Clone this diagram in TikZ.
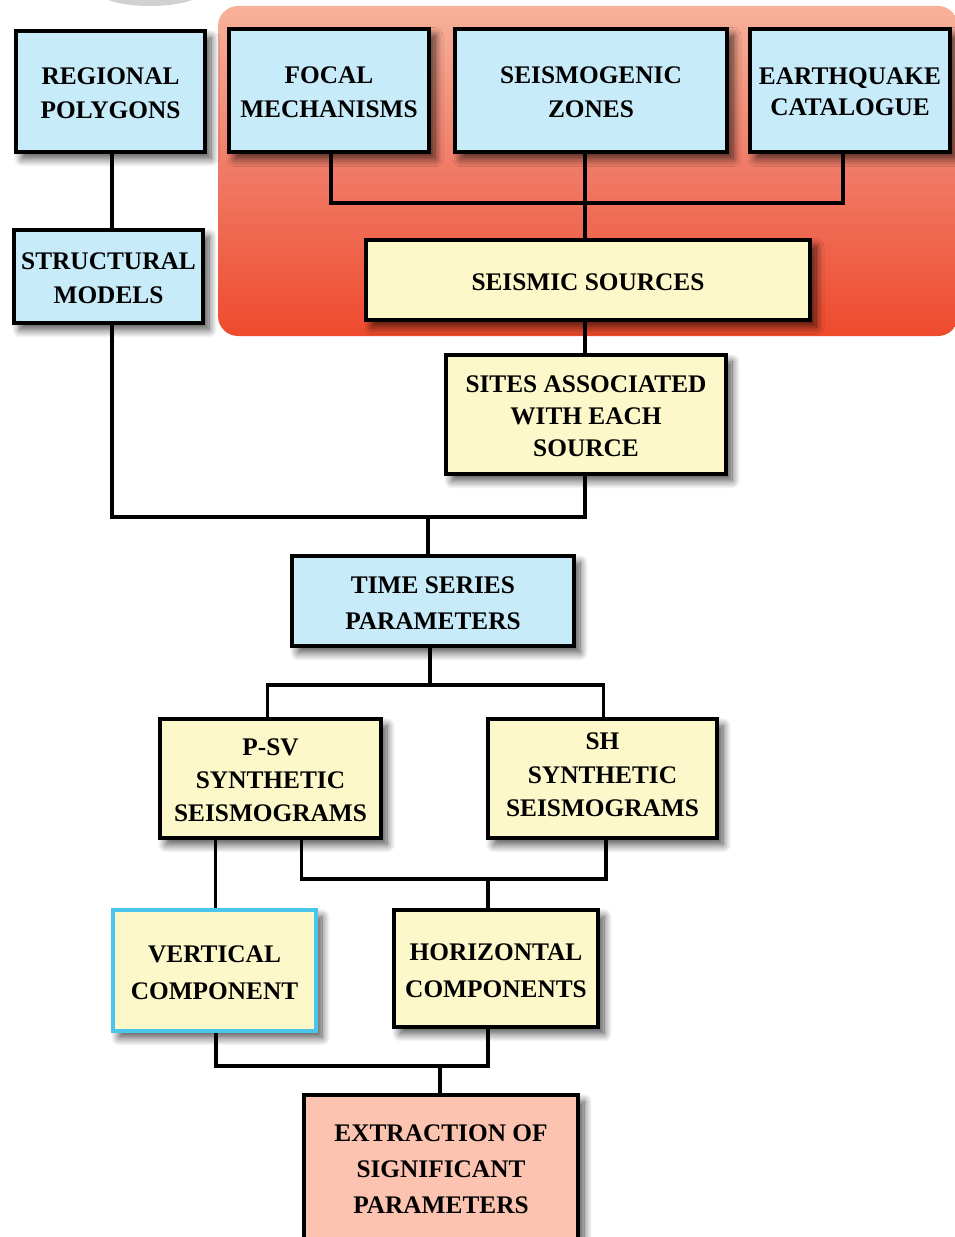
\documentclass[tikz,border=0pt]{standalone}
\usepackage{fontspec}
\setmainfont{Liberation Serif}
\usetikzlibrary{shadows.blur,calc}
\definecolor{bluefill}{HTML}{C8EBF9}
\definecolor{yelfill}{HTML}{FDF8C9}
\definecolor{salfill}{HTML}{FBC3B0}
\definecolor{cyanline}{HTML}{4BC5EC}
\definecolor{redtop}{HTML}{F7B29A}
\definecolor{redmid}{HTML}{F07A66}
\definecolor{redbot}{HTML}{EE4A2C}
\newcommand{\boxtext}[2][-2.4pt]{\raisebox{#1}[\height][\depth]{\begin{tabular}{@{}c@{}}#2\end{tabular}}}
\tikzset{
  box/.style={draw=black, line width=3pt, inner sep=2pt,
    font=\fontsize{19}{26}\selectfont\bfseries,
    blur shadow={shadow xshift=4.5pt, shadow yshift=-5pt, shadow blur radius=6pt, shadow blur steps=12, shadow opacity=70}},
  bluebox/.style={box, fill=bluefill},
  yelbox/.style={box, fill=yelfill},
  salbox/.style={box, fill=salfill},
  conn/.style={draw=black, line width=2.3pt},
}
\begin{document}
\begin{tikzpicture}[x=0.75pt,y=-0.75pt]
\useasboundingbox (0,0) rectangle (955,1237);
% faint grey blob at top
\fill[black!18] (150,-6) ellipse (48 and 12);
% red background panel
\shade[rounded corners=15pt, top color=redtop, bottom color=redbot, middle color=redmid]
  (218,6) rectangle (958,336);
% boxes
\node[bluebox, minimum width=141.75pt, minimum height=90.75pt] (reg) at (110.5,91.5) {\boxtext{REGIONAL\\POLYGONS}};
\node[bluebox, minimum width=150pt, minimum height=92.25pt] (foc) at (329,90.5) {\boxtext{FOCAL\\MECHANISMS}};
\node[bluebox, minimum width=204pt, minimum height=92.25pt] (seis) at (591,90.5) {\boxtext{SEISMOGENIC\\ZONES}};
\node[bluebox, minimum width=150pt, minimum height=92.25pt, font=\fontsize{19}{23.5}\selectfont\bfseries] (eq) at (850,90.5) {\boxtext{EARTHQUAKE\\CATALOGUE}};
\node[bluebox, minimum width=141.75pt, minimum height=69.75pt, font=\fontsize{19}{25}\selectfont\bfseries] (struct) at (108.5,276.5) {\boxtext{STRUCTURAL\\MODELS}};
\node[yelbox, minimum width=333pt, minimum height=60pt] (src) at (588,280) {\boxtext{SEISMIC SOURCES}};
\node[yelbox, minimum width=210pt, minimum height=89.25pt, font=\fontsize{19}{24}\selectfont\bfseries] (sites) at (586,414.5) {\boxtext{SITES ASSOCIATED\\WITH EACH\\SOURCE}};
\node[bluebox, minimum width=211.5pt, minimum height=67.5pt, font=\fontsize{19}{27}\selectfont\bfseries] (time) at (433,601) {\boxtext{TIME SERIES\\PARAMETERS}};
\node[yelbox, minimum width=165.75pt, minimum height=89.25pt, font=\fontsize{19}{25}\selectfont\bfseries] (psv) at (270.5,778.5) {\boxtext{P-SV\\SYNTHETIC\\SEISMOGRAMS}};
\node[yelbox, minimum width=171.75pt, minimum height=89.25pt, font=\fontsize{19}{25}\selectfont\bfseries] (sh) at (602.5,778.5) {\boxtext[1.5pt]{SH\\SYNTHETIC\\SEISMOGRAMS}};
\node[yelbox, draw=cyanline, minimum width=152.25pt, minimum height=90.75pt, font=\fontsize{19}{27.5}\selectfont\bfseries] (vert) at (214.5,970.5) {\boxtext{VERTICAL\\COMPONENT}};
\node[yelbox, minimum width=153pt, minimum height=87.75pt, font=\fontsize{19}{27.5}\selectfont\bfseries] (horiz) at (496,968.5) {\boxtext{HORIZONTAL\\COMPONENTS}};
\node[salbox, minimum width=205.5pt, minimum height=108.75pt, font=\fontsize{19}{27}\selectfont\bfseries] (ext) at (441,1167.5) {\boxtext{EXTRACTION OF\\SIGNIFICANT\\PARAMETERS}};
% junctions
\coordinate (j1) at (585,203);
\coordinate (j2) at (428,517);
\coordinate (j3) at (430,685);
\coordinate (j4) at (488,879);
\coordinate (j5) at (440,1066);
% connectors
\draw[conn] ([xshift=1.1pt]reg.south) -- ([xshift=1.1pt]reg.south |- struct.north);
\draw[conn] ([xshift=1.5pt]foc.south) |- (j1);
\draw[conn] ([xshift=-5.25pt]eq.south) |- (j1);
\draw[conn] ([xshift=-4.5pt]seis.south) -- ([xshift=-4.5pt]seis.south |- src.north);
\draw[conn] ([xshift=-2.25pt]src.south) -- ([xshift=-2.25pt]src.south |- sites.north);
\draw[conn] ([xshift=2.6pt]struct.south) |- (j2);
\draw[conn] ([xshift=-0.75pt]sites.south) |- (j2);
\draw[conn] (j2) -- (j2 |- time.north);
\draw[conn] ([xshift=-2.25pt]time.south) -- (j3);
\draw[conn] (j3) -| ([xshift=-2.6pt]psv.north);
\draw[conn] (j3) -| ([xshift=0.4pt]sh.north);
\draw[conn] ([xshift=-41.6pt]psv.south) -- ([xshift=-41.6pt]psv.south |- vert.north);
\draw[conn] ([xshift=23pt]psv.south) |- (j4);
\draw[conn] ([xshift=2.6pt]sh.south) |- (j4);
\draw[conn] (j4) -- (j4 |- horiz.north);
\draw[conn] ([xshift=1.1pt]vert.south) |- (j5);
\draw[conn] ([xshift=-6pt]horiz.south) |- (j5);
\draw[conn] (j5) -- (j5 |- ext.north);
\end{tikzpicture}
\end{document}
